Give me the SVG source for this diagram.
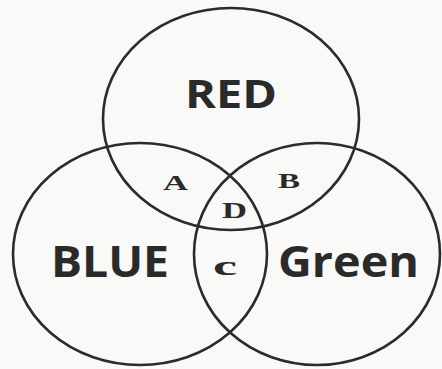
<svg xmlns="http://www.w3.org/2000/svg" width="442" height="369" viewBox="0 0 442 369">
<style>
.set{fill:none;stroke:#2b2b2b;stroke-width:2.6}
.big{font-family:"Open Sans","Liberation Sans",sans-serif;font-weight:bold;fill:#2a2a2a}
.lab{font-family:"Liberation Serif",serif;font-weight:bold;fill:#2a2a2a}
</style>
<rect width="442" height="369" fill="#f9f9f8"/>
<g id="red">
<ellipse class="set" cx="231" cy="119" rx="128" ry="111"/>
<text class="big" x="185" y="108" font-size="39" textLength="92" lengthAdjust="spacingAndGlyphs">RED</text>
</g>
<g id="blue">
<ellipse class="set" cx="140" cy="254" rx="127" ry="111"/>
<text class="big" x="51" y="277" font-size="43" textLength="118" lengthAdjust="spacingAndGlyphs">BLUE</text>
</g>
<g id="green">
<ellipse class="set" cx="317" cy="254" rx="123" ry="111"/>
<text class="big" x="278" y="277" font-size="43" textLength="141" lengthAdjust="spacingAndGlyphs">Green</text>
</g>
<g id="regionA"><text class="lab" x="163" y="190" font-size="22" textLength="25" lengthAdjust="spacingAndGlyphs">A</text></g>
<g id="regionB"><text class="lab" x="278" y="188" font-size="22" textLength="22" lengthAdjust="spacingAndGlyphs">B</text></g>
<g id="regionD"><text class="lab" x="222" y="218" font-size="23" textLength="25" lengthAdjust="spacingAndGlyphs">D</text></g>
<g id="regionC"><text class="lab" x="213" y="275" font-size="27" textLength="24" lengthAdjust="spacingAndGlyphs">c</text></g>
<g id="connectors"></g>
</svg>
